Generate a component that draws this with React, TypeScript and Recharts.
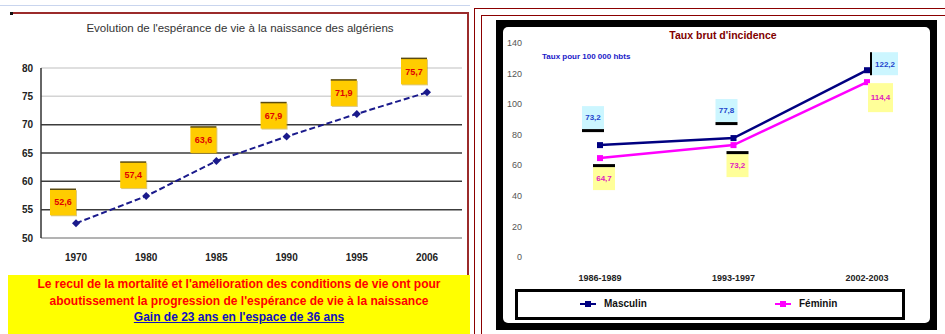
import { LineChart, Line, XAxis, YAxis, ReferenceLine, LabelList } from 'recharts';

// espérance de vie à la naissance
const years = ['1970', '1980', '1985', '1990', '1995', '2006'];
const lifeExpectancy = [52.6, 57.4, 63.6, 67.9, 71.9, 75.7];
const lifeTicks = [50, 55, 60, 65, 70, 75, 80];

// taux pour 100 000 habitants
const periods = ['1986-1989', '1993-1997', '2002-2003'];
const maleRate = [73.2, 77.8, 122.2];
const femaleRate = [64.7, 73.2, 114.4];
const rateTicks = [0, 20, 40, 60, 80, 100, 120, 140];
const seriesNames = ['Masculin', 'Féminin'];

const lifeData = years.map((year, i) => ({ year, value: lifeExpectancy[i] }));
const rateData = periods.map((period, i) => ({ period, male: maleRate[i], female: femaleRate[i] }));

const FONT = '"Liberation Sans", Arial, sans-serif';
const NAVY = '#1a1a8c';
const fmt = (v: number) => v.toFixed(1).replace('.', ',');

const Diamond = (props: any) => {
  const { cx, cy } = props;
  if (cx == null || cy == null) return null;
  return <path d={`M${cx},${cy - 4}L${cx + 4},${cy}L${cx},${cy + 4}L${cx - 4},${cy}Z`} fill={NAVY} />;
};

const Square = (props: any) => {
  const { cx, cy, color } = props;
  if (cx == null || cy == null) return null;
  return <rect x={cx - 3} y={cy - 3} width={6} height={6} fill={color} />;
};

const LifeLabel = (props: any) => {
  const { x, y, value } = props;
  if (x == null || y == null) return null;
  const bx = x - 26;
  const by = y - 34;
  return (
    <g>
      <rect x={bx + 1} y={by + 1} width={26} height={26} fill="#b89200" opacity={0.5} />
      <rect x={bx} y={by} width={26} height={26} fill="#ffcc00" />
      <line x1={bx} x2={bx + 26} y1={by} y2={by} stroke="#5a4a10" strokeWidth={1.5} />
      <text x={bx + 13} y={by + 13} dy="0.35em" textAnchor="middle" fontSize={9} fontWeight="bold" fill="#e00000" fontFamily={FONT}>
        {fmt(Number(value))}
      </text>
    </g>
  );
};

const RateLabel = (props: any) => {
  const { x, y, value, index, side, boxFill, textFill } = props;
  if (x == null || y == null) return null;
  const last = index === periods.length - 1;
  let bx: number, by: number, w = 22, h = 23;
  let bar: { x: number; y: number; w: number; h: number } | null = null;
  if (side === 'above') {
    if (last) {
      bx = x + 5; by = y - 18; w = 26;
      bar = { x: bx - 2, y: by, w: 2, h };
    } else {
      bx = x - 18; by = y - 39;
      bar = { x: bx, y: by + h, w, h: 3 };
    }
  } else {
    if (last) {
      bx = x + 1; by = y + 1; w = 25; h = 29;
    } else {
      bx = x - 7; by = y + 9;
      bar = { x: bx, y: by - 3, w, h: 3 };
    }
  }
  return (
    <g>
      <rect x={bx} y={by} width={w} height={h} fill={boxFill} />
      {bar && <rect x={bar.x} y={bar.y} width={bar.w} height={bar.h} fill="#000" />}
      <text x={bx + w / 2} y={by + h / 2} dy="0.35em" textAnchor="middle" fontSize={8} fontWeight="bold" fill={textFill} fontFamily={FONT}>
        {fmt(Number(value))}
      </text>
    </g>
  );
};

const line = (style: React.CSSProperties) => <div style={{ position: 'absolute', ...style }} />;

export default function App() {
  return (
    <div style={{ position: 'absolute', left: 0, top: 0, width: 945, height: 334, overflow: 'hidden', background: '#fff', fontFamily: FONT }}>
      {/* panneau gauche */}
      {line({ left: 0, top: 5, width: 470, height: 1, background: '#c9d5ee' })}
      {line({ left: 10, top: 12, width: 459, height: 2, background: '#9b2b2b' })}
      {line({ left: 467, top: 12, width: 2, height: 263, background: '#9b2b2b' })}
      {line({ left: 10, top: 12, width: 3, height: 3, background: '#111' })}

      <div style={{ position: 'absolute', left: 0, top: 22, width: 480, textAlign: 'center', fontSize: 11.5, color: '#333' }}>
        Evolution de l'espérance de vie à la naissance des algériens
      </div>

      <div style={{ position: 'absolute', left: 0, top: 0 }}>
        <LineChart width={470} height={275} data={lifeData} margin={{ top: 68, right: 8, bottom: 7, left: 0 }}>
          {lifeTicks.filter((t) => t > 50).map((t) => (
            <ReferenceLine key={t} y={t} stroke={t >= 75 ? '#d4d4d4' : '#3c3c3c'} strokeWidth={1.5} />
          ))}
          <XAxis
            dataKey="year"
            height={30}
            padding={{ left: 35, right: 35 }}
            tickLine={false}
            tickMargin={10}
            axisLine={{ stroke: '#9a9a9a', strokeWidth: 1.5 }}
            tick={{ fontSize: 10, fontWeight: 'bold', fill: '#222', fontFamily: FONT }}
          />
          <YAxis
            domain={[50, 80]}
            ticks={lifeTicks}
            width={41}
            tickLine={false}
            axisLine={{ stroke: '#333', strokeWidth: 1.5 }}
            tick={{ fontSize: 10, fontWeight: 'bold', fill: '#222', fontFamily: FONT }}
          />
          <Line dataKey="value" stroke={NAVY} strokeWidth={2} strokeDasharray="6 3" dot={<Diamond />} isAnimationActive={false}>
            <LabelList dataKey="value" content={<LifeLabel />} />
          </Line>
        </LineChart>
      </div>

      <div style={{ position: 'absolute', left: 8, top: 275, width: 462, height: 59, background: '#ffff00', textAlign: 'center', fontSize: 12, fontWeight: 'bold', lineHeight: '16.5px', paddingTop: 1 }}>
        <div style={{ color: '#ff0000' }}>Le recul de la mortalité et l'amélioration des conditions de vie ont pour</div>
        <div style={{ color: '#ff0000' }}>aboutissement la progression de l'espérance de vie à la naissance</div>
        <div style={{ color: '#1010c0', textDecoration: 'underline' }}>Gain de 23 ans en l'espace de 36 ans</div>
      </div>

      {/* panneau droit */}
      {line({ left: 474, top: 8, width: 471, height: 1, background: '#8b0000' })}
      {line({ left: 474, top: 8, width: 1, height: 326, background: '#8b0000' })}
      {line({ left: 481, top: 15, width: 464, height: 1, background: '#8b0000' })}
      {line({ left: 481, top: 15, width: 1, height: 319, background: '#8b0000' })}
      <div style={{ position: 'absolute', left: 496, top: 20, width: 441, height: 310, background: '#000' }}>
        <div style={{ position: 'absolute', left: 7, top: 7, width: 427, height: 296, background: '#fff', borderRadius: 5 }} />
      </div>

      <div style={{ position: 'absolute', left: 503, top: 29, width: 440, textAlign: 'center', fontSize: 10.5, fontWeight: 'bold', color: '#800000' }}>
        Taux brut d'incidence
      </div>
      <div style={{ position: 'absolute', left: 542, top: 52, fontSize: 8, fontWeight: 'bold', color: '#1a1ac8' }}>
        Taux pour 100 000 hbts
      </div>

      <div style={{ position: 'absolute', left: 503, top: 27 }}>
        <LineChart width={427} height={296} data={rateData} margin={{ top: 16, right: 5, bottom: 36, left: 0 }}>
          <XAxis
            dataKey="period"
            height={30}
            padding={{ left: 70, right: 58 }}
            axisLine={false}
            tickLine={false}
            tickMargin={12}
            tick={{ fontSize: 9, fontWeight: 'bold', fill: '#222', fontFamily: FONT }}
          />
          <YAxis
            domain={[0, 140]}
            ticks={rateTicks}
            width={27}
            axisLine={false}
            tickLine={false}
            tick={{ fontSize: 9, fill: '#555', fontFamily: FONT }}
          />
          <Line dataKey="male" name={seriesNames[0]} stroke="#000080" strokeWidth={2.5} dot={<Square color="#000080" />} isAnimationActive={false}>
            <LabelList dataKey="male" content={<RateLabel side="above" boxFill="#ccf6ff" textFill="#2244cc" />} />
          </Line>
          <Line dataKey="female" name={seriesNames[1]} stroke="#ff00ff" strokeWidth={2.5} dot={<Square color="#ff00ff" />} isAnimationActive={false}>
            <LabelList dataKey="female" content={<RateLabel side="below" boxFill="#ffff99" textFill="#e020c0" />} />
          </Line>
        </LineChart>
      </div>

      <div style={{ position: 'absolute', left: 515, top: 289, width: 384, height: 25, border: '3px solid #000', background: '#fff', fontSize: 10, fontWeight: 'bold', color: '#111' }}>
        {seriesNames.map((name, i) => (
          <div key={name} style={{ position: 'absolute', left: i === 0 ? 62 : 257, top: 6, display: 'flex', alignItems: 'center' }}>
            <div style={{ position: 'relative', width: 16, height: 10, marginRight: 8 }}>
              <div style={{ position: 'absolute', left: 0, top: 4, width: 16, height: 2, background: i === 0 ? '#000080' : '#ff00ff' }} />
              <div style={{ position: 'absolute', left: 5, top: 2, width: 6, height: 6, background: i === 0 ? '#000080' : '#ff00ff' }} />
            </div>
            <span>{name}</span>
          </div>
        ))}
      </div>
    </div>
  );
}
